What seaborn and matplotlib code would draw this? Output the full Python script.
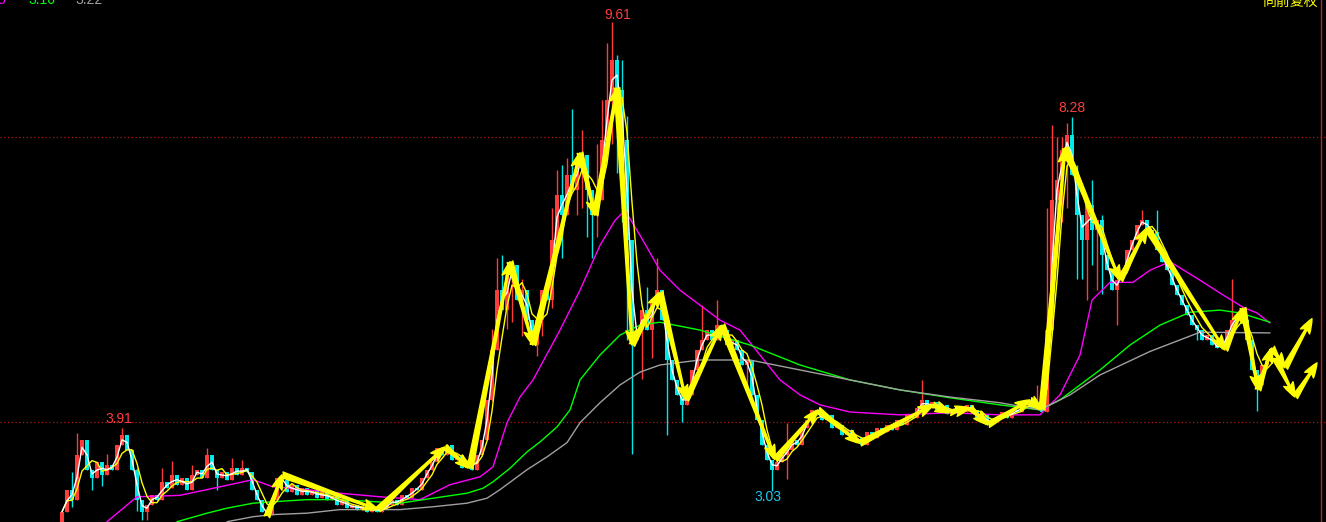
import matplotlib
matplotlib.use('Agg')
import matplotlib.pyplot as plt
import numpy as np
import pandas as pd
import seaborn as sns

# closes, one per bar (bar 0 is the first visible candle)
close = [2.74, 3.05, 2.91, 3.54, 3.75, 3.33, 3.21, 3.44, 3.26, 3.40,
         3.33, 3.68, 3.82, 3.61, 3.33, 2.91, 2.74, 2.84, 2.98, 2.91,
         3.16, 3.07, 3.26, 3.12, 3.21, 3.05, 3.26, 3.33, 3.21, 3.54,
         3.33, 3.21, 3.30, 3.19, 3.36, 3.26, 3.36, 3.30, 3.05, 2.91,
         2.74, 2.70, 2.91, 3.21, 3.19, 3.02, 3.12, 2.98, 3.07, 2.98,
         3.05, 2.93, 3.02, 2.91, 2.96, 2.84, 2.91, 2.79, 2.84, 2.77,
         2.82, 2.74, 2.79, 2.74, 2.79, 2.84, 2.91, 2.84, 2.98, 2.93,
         3.07, 3.05, 3.21, 3.33, 3.44, 3.64, 3.54, 3.68, 3.47, 3.54,
         3.36, 3.44, 3.33, 3.54, 3.75, 4.31, 5.01, 5.85, 5.57, 6.06,
         6.20, 5.71, 5.85, 5.43, 5.08, 5.43, 5.85, 5.71, 6.56, 7.19,
         6.91, 7.47, 7.26, 7.68, 7.75, 7.26, 6.91, 7.12, 7.96, 8.52,
         9.08, 8.66, 7.96, 6.56, 5.15, 5.29, 5.57, 5.29, 5.71, 5.85,
         5.43, 4.87, 4.59, 4.38, 4.24, 4.38, 4.73, 5.01, 5.15, 5.29,
         5.15, 5.36, 5.29, 5.08, 5.15, 5.01, 4.80, 4.87, 4.38, 4.03,
         3.68, 3.47, 3.33, 3.44, 3.54, 3.61, 3.75, 3.68, 3.92, 4.03,
         4.17, 4.10, 4.03, 4.10, 3.92, 3.96, 3.82, 3.89, 3.75, 3.78,
         3.68, 3.86, 3.78, 3.92, 3.86, 3.96, 3.89, 4.03, 3.96, 4.10,
         4.06, 4.20, 4.31, 4.20, 4.28, 4.17, 4.24, 4.11, 4.17, 4.23,
         4.14, 4.24, 4.17, 4.06, 4.10, 3.96, 4.03, 4.06, 4.14, 4.06,
         4.17, 4.14, 4.24, 4.31, 4.20, 4.25, 4.14, 5.29, 7.12, 7.40,
         7.82, 8.03, 7.47, 6.91, 6.56, 7.05, 6.70, 6.84, 6.34, 6.13,
         5.85, 5.99, 6.13, 6.41, 6.56, 6.77, 6.84, 6.70, 6.67, 6.41,
         6.25, 6.13, 5.92, 5.78, 5.64, 5.50, 5.36, 5.29, 5.15, 5.22,
         5.08, 5.04, 5.08, 5.29, 5.43, 5.50, 5.43, 5.15, 4.73, 4.52,
         4.80, 4.94, 5.04]
first_open = 2.58

# shadows on single bars (bar index -> price)
wick_high = {2: 3.30, 3: 3.85, 5: 3.60, 9: 3.55, 12: 3.91, 14: 3.60,
             15: 3.35, 20: 3.35, 22: 3.45, 26: 3.40, 29: 3.64, 34: 3.50,
             36: 3.46, 86: 5.30, 87: 6.30, 88: 6.34, 92: 6.00, 98: 7.00,
             99: 7.54, 100: 7.60, 101: 7.70, 102: 8.40, 104: 8.10,
             107: 7.90, 108: 8.52, 109: 9.32, 110: 9.61, 111: 9.15,
             112: 9.08, 113: 8.30, 117: 5.90, 119: 6.30, 128: 5.64,
             131: 5.71, 145: 3.98, 172: 4.59, 195: 4.52, 197: 7.00,
             198: 8.17, 199: 8.00, 200: 8.00, 201: 8.20, 202: 8.28,
             203: 7.60, 206: 7.40, 208: 6.90, 216: 6.97, 219: 6.97,
             234: 6.00}
wick_low = {1: 2.84, 2: 2.80, 6: 3.05, 8: 3.10, 15: 2.75, 16: 2.62,
            17: 2.62, 31: 3.05, 86: 4.30, 89: 5.30, 90: 5.40, 92: 5.20,
            95: 4.93, 96: 5.20, 98: 5.60, 100: 6.30, 103: 6.90, 104: 7.00,
            105: 6.60, 106: 6.30, 107: 6.60, 110: 7.90, 111: 7.50,
            112: 6.80, 113: 5.15, 114: 3.55, 116: 4.60, 118: 4.90,
            121: 3.82, 124: 4.00, 137: 4.45, 142: 3.03, 145: 3.20,
            197: 4.20, 198: 5.50, 199: 6.30, 200: 6.80, 201: 7.00,
            203: 6.00, 204: 6.00, 205: 5.71, 206: 6.20, 207: 5.85,
            208: 5.80, 211: 5.36, 227: 5.15, 239: 4.16}

# slow moving averages (bar index, price)
ma60_i = [9, 15, 23.6, 31.6, 38.2, 42.2, 49, 55.6, 63.6, 71.6, 77.6, 83.6,
          86.2, 89, 91.6, 94.2, 99.6, 103.6, 107.6, 110.6, 112.6, 115.6,
          119.6, 123.6, 127.6, 131.6, 135.6, 139.6, 143.6, 147.6, 151.6,
          157.6, 167.6, 177.6, 187.6, 195.6, 199.6, 203.6, 206, 209.6,
          214.2, 217.6, 221.6, 227.6, 231.6, 236.2, 239, 241.6]
ma60_p = [2.60, 2.95, 2.97, 3.09, 3.19, 3.09, 3.05, 3.00, 2.95, 2.91, 3.12,
          3.23, 3.37, 3.99, 4.35, 4.59, 5.29, 5.85, 6.48, 6.83, 6.97, 6.62,
          6.13, 5.85, 5.64, 5.43, 5.29, 4.94, 4.59, 4.38, 4.24,
          4.14, 4.10, 4.13, 4.10, 4.10, 4.38, 4.94, 5.71, 5.96,
          5.96, 6.13, 6.25, 5.99, 5.81, 5.61, 5.53, 5.39]
ma120_i = [23, 29, 33, 38.2, 42.2, 49, 55.6, 67.6, 74.2, 81, 84.2, 86.2,
           89.6, 93, 95.6, 99, 101.6, 103.6, 107.6, 111.6, 115.6, 119.6,
           127.6, 137.6, 147.6, 157.6, 167.6, 177.6, 187.6, 195.6, 199.6,
           203.6, 207.6, 213.6, 219.6, 225.6, 231.6, 235.6, 241.6]
ma120_p = [2.60, 2.72, 2.79, 2.86, 2.88, 2.91, 2.91, 2.86, 2.93, 3.00, 3.07,
           3.16, 3.35, 3.58, 3.72, 3.93, 4.17, 4.59, 4.94, 5.22, 5.36, 5.40,
           5.29, 5.08, 4.80, 4.59, 4.45, 4.34, 4.24, 4.17, 4.31,
           4.52, 4.73, 5.08, 5.36, 5.54, 5.57, 5.53, 5.40]
ma250_i = [33, 38.2, 42.2, 49, 55.6, 67.6, 74.2, 81, 85, 87.6, 93, 97, 101,
           103.6, 107.6, 111.6, 115.6, 119.6, 127.6, 137.6, 147.6, 157.6,
           167.6, 177.6, 187.6, 195.6, 201.6, 207.6, 217.6, 227.6, 241.6]
ma250_p = [2.60, 2.67, 2.70, 2.72, 2.77, 2.77, 2.81, 2.86, 2.93, 3.05, 3.33,
           3.51, 3.71, 3.99, 4.27, 4.52, 4.70, 4.80, 4.87, 4.87, 4.73, 4.59,
           4.45, 4.35, 4.27, 4.17, 4.38, 4.66, 4.99, 5.26, 5.25]

# zigzag swing points (bar index, price)
swing_i = [41.0, 44.0, 63.2, 76.6, 81.6, 89.6, 94.2, 103.6, 106.6, 111.0,
           114.0, 119.6, 124.8, 132.0, 142.6, 151.2, 159.6, 174.2, 177.6,
           181.6, 185.2, 193.6, 196.0, 200.6, 211.6, 217.0, 232.6, 236.2,
           239.2, 242.0]
swing_p = [2.67, 3.26, 2.77, 3.65, 3.35, 6.25, 5.08, 7.78, 6.90, 8.69,
           5.08, 5.82, 4.31, 5.36, 3.47, 4.17, 3.70, 4.24, 4.13,
           4.20, 3.96, 4.31, 4.17, 7.85, 5.99, 6.72, 5.01, 5.60,
           4.45, 5.04]
proj_a_i = [242.0, 244.6, 250.0]
proj_a_p = [5.04, 4.76, 5.45]
proj_b_i = [242.6, 246.6, 251.0]
proj_b_p = [4.90, 4.35, 4.83]

closes = np.array(close)
opens = np.r_[first_open, closes[:-1]]
highs = np.maximum(opens, closes)
lows = np.minimum(opens, closes)
for k, v in wick_high.items():
    highs[k] = max(highs[k], v)
for k, v in wick_low.items():
    lows[k] = min(lows[k], v)

df = pd.DataFrame({'idx': np.arange(len(close)), 'open': opens,
                   'close': closes, 'high': highs, 'low': lows})
df['ma5'] = df['close'].rolling(2, min_periods=1).mean()
df['ma10'] = df['close'].rolling(4, min_periods=1).mean()
slow = [(pd.DataFrame({'idx': ma60_i, 'v': ma60_p}), '#ff00ff'),
        (pd.DataFrame({'idx': ma120_i, 'v': ma120_p}), '#00ff00'),
        (pd.DataFrame({'idx': ma250_i, 'v': ma250_p}), '#a0a0a0')]

sns.set_style('dark', rc={'axes.facecolor': 'black', 'figure.facecolor': 'black'})
plt.rcParams['font.family'] = ['Liberation Sans', 'Noto Sans CJK SC', 'DejaVu Sans']

fig = plt.figure(figsize=(13.26, 5.22), dpi=100)
ax = fig.add_axes([0, 0, 1, 1])
ax.set_facecolor('black')

up = df['close'] >= df['open']
colors = np.where(up, '#ff3c3c', '#00e8e8')
ax.vlines(df['idx'], df['low'], df['high'], colors=colors, lw=1.0, zorder=2)
ax.bar(df['idx'], (df['close'] - df['open']).abs().clip(lower=0.02),
       bottom=np.minimum(df['open'], df['close']), width=0.8,
       color=colors, linewidth=0, zorder=2)

for sdf, col in slow:
    sns.lineplot(data=sdf, x='idx', y='v', color=col, lw=1.0, ax=ax, zorder=3)
sns.lineplot(data=df, x='idx', y='ma10', color='#ffff00', lw=1.0, ax=ax, zorder=3)
sns.lineplot(data=df, x='idx', y='ma5', color='#ffffff', lw=1.0, ax=ax, zorder=3)

ax.axhline(8.0, color='#b01818', lw=0.9, ls=(0, (1, 2)), zorder=1)
ax.axhline(4.0, color='#b01818', lw=0.9, ls=(0, (1, 2)), zorder=1)
ax.axvline(251.8, color='#c02020', lw=1.0, zorder=1)

arrow_kw = dict(arrowstyle='fancy,head_length=0.7,head_width=0.5,tail_width=0.28',
                color='#ffff00', shrinkA=0, shrinkB=0, mutation_scale=15)
for xs, ps in [(swing_i, swing_p), (proj_a_i, proj_a_p), (proj_b_i, proj_b_p)]:
    for k in range(len(xs) - 1):
        ax.annotate('', xy=(xs[k + 1], ps[k + 1]), xytext=(xs[k], ps[k]),
                    arrowprops=arrow_kw, zorder=4)

ax.text(111.2, 9.71, '9.61', color='#ff3c3c', fontsize=10, ha='center', va='center')
ax.text(202.0, 8.41, '8.28', color='#ff3c3c', fontsize=10, ha='center', va='center')
ax.text(11.4, 4.04, '3.91', color='#ff3c3c', fontsize=10, ha='center', va='center')
ax.text(141.2, 2.94, '3.03', color='#20c8f0', fontsize=10, ha='center', va='center')

fig.text(5 / 1326, 1 - 4 / 522, '5', color='#ff00ff', fontsize=10, ha='right', va='baseline')
fig.text(28 / 1326, 1 - 4 / 522, '3.16', color='#00ff00', fontsize=10, ha='left', va='baseline')
fig.text(75 / 1326, 1 - 4 / 522, '3.22', color='#a0a0a0', fontsize=10, ha='left', va='baseline')
fig.text(1318 / 1326, 1 - 6 / 522, '向前复权', color='#ffff00', fontsize=10,
         ha='right', va='baseline', family=['Noto Sans CJK SC', 'DejaVu Sans'])

ax.set_xlim(-12.4, 252.8)
ax.set_ylim(2.596, 9.923)
ax.set_xticks([])
ax.set_yticks([])
ax.set_xlabel('')
ax.set_ylabel('')
ax.grid(False)
for s in ax.spines.values():
    s.set_visible(False)

fig.savefig('out.png', dpi=100, facecolor='black')
